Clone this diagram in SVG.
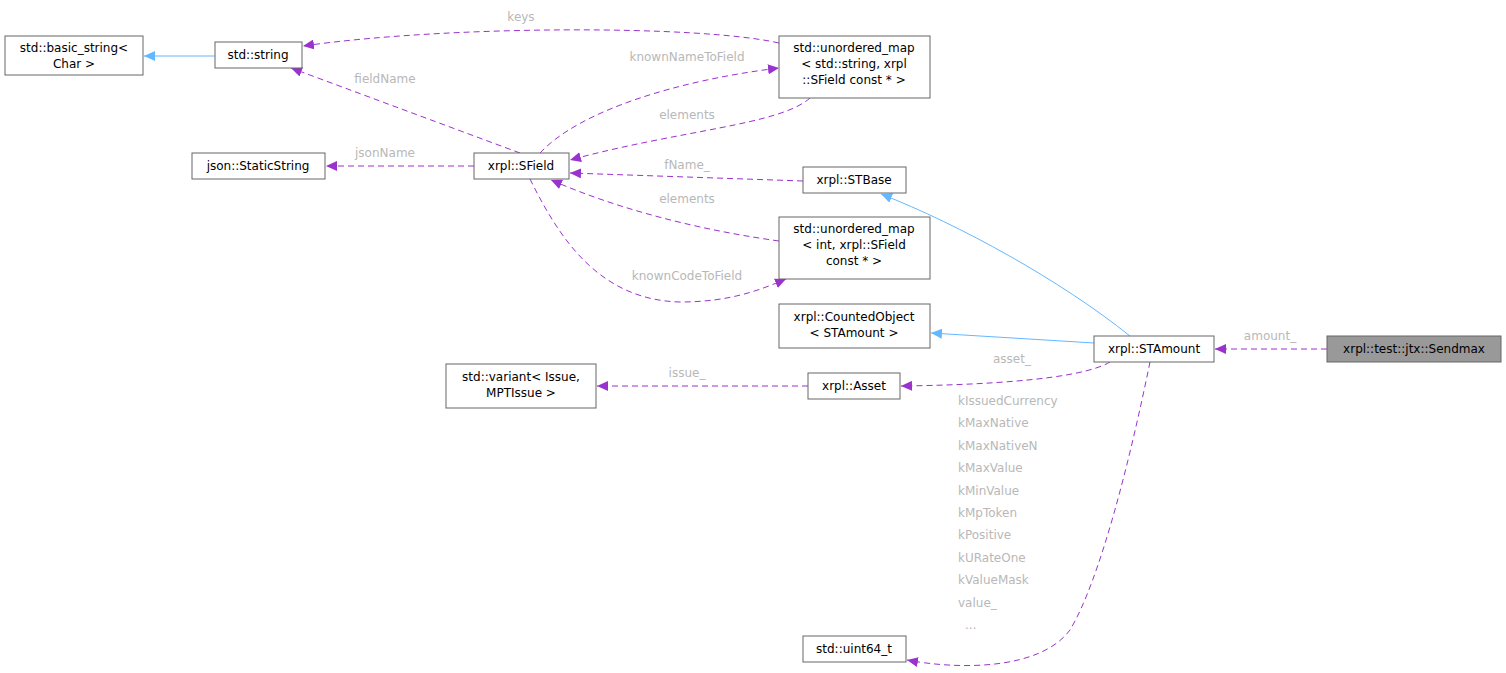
<svg xmlns="http://www.w3.org/2000/svg" width="1506" height="673" viewBox="0 0 1506 673">
<style>
text{font-family:"DejaVu Sans","Liberation Sans",sans-serif;font-size:12px}
.n rect{fill:#fff;stroke:#666;stroke-width:1}
.n text{fill:#000;text-anchor:middle}
.d{fill:none;stroke:#9a32cd;stroke-dasharray:6,4}
.b{fill:none;stroke:#63b8ff}
.l{fill:#b8b8b8;text-anchor:middle}
.k{fill:#b8b8b8}
</style>
<defs>
<marker id="mp" markerWidth="12" markerHeight="10" refX="11" refY="5" orient="auto" markerUnits="userSpaceOnUse"><path d="M0,0L11,5L0,10z" fill="#9a32cd"/></marker>
<marker id="mb" markerWidth="12" markerHeight="10" refX="11" refY="5" orient="auto" markerUnits="userSpaceOnUse"><path d="M0,0L11,5L0,10z" fill="#63b8ff"/></marker>
</defs>
<rect width="1506" height="673" fill="#fff"/>
<g id="edges">
<path class="b" d="M215,56H144" marker-end="url(#mb)"/>
<path class="d" d="M520,153L291,68" marker-end="url(#mp)"/>
<path class="d" d="M779,43C700,25 450,25 303,46" marker-end="url(#mp)"/>
<path class="d" d="M540,153C580,110 680,80 779,68" marker-end="url(#mp)"/>
<path class="d" d="M810,98C780,125 680,130 570,160" marker-end="url(#mp)"/>
<path class="d" d="M474,166H326" marker-end="url(#mp)"/>
<path class="d" d="M803,181L570,173" marker-end="url(#mp)"/>
<path class="d" d="M779,241C700,230 620,210 551,180" marker-end="url(#mp)"/>
<path class="d" d="M530,179C560,240 600,300 680,302C730,302 760,290 786,279" marker-end="url(#mp)"/>
<path class="b" d="M1130,336C1060,280 960,225 881,194" marker-end="url(#mb)"/>
<path class="b" d="M1094,343L931,333" marker-end="url(#mb)"/>
<path class="d" d="M1327,349H1215" marker-end="url(#mp)"/>
<path class="d" d="M1110,362C1080,380 980,385 901,386" marker-end="url(#mp)"/>
<path class="d" d="M808,386H597" marker-end="url(#mp)"/>
<path class="d" d="M1150,362C1130,460 1100,580 1070,630C1040,670 960,670 907,660" marker-end="url(#mp)"/>
<text class="l" x="385" y="83">fieldName</text>
<text class="l" x="521" y="21">keys</text>
<text class="l" x="687" y="61">knownNameToField</text>
<text class="l" x="687" y="119">elements</text>
<text class="l" x="385" y="157">jsonName</text>
<text class="l" x="687" y="169">fName_</text>
<text class="l" x="687" y="203">elements</text>
<text class="l" x="687" y="280">knownCodeToField</text>
<text class="l" x="1270" y="340">amount_</text>
<text class="l" x="1012" y="363">asset_</text>
<text class="l" x="687" y="377">issue_</text>
<text class="k" x="958" y="405">kIssuedCurrency</text>
<text class="k" x="958" y="427">kMaxNative</text>
<text class="k" x="958" y="450">kMaxNativeN</text>
<text class="k" x="958" y="472">kMaxValue</text>
<text class="k" x="958" y="495">kMinValue</text>
<text class="k" x="958" y="517">kMpToken</text>
<text class="k" x="958" y="539">kPositive</text>
<text class="k" x="958" y="562">kURateOne</text>
<text class="k" x="958" y="584">kValueMask</text>
<text class="k" x="958" y="607">value_</text>
<text class="k" x="965" y="629">...</text>
</g>
<g id="n1" class="n"><rect x="5" y="36" width="138" height="39"/><text x="74" y="52">std::basic_string&lt;</text><text x="74" y="68">Char &gt;</text></g>
<g id="n2" class="n"><rect x="215" y="42" width="87" height="26"/><text x="258" y="59">std::string</text></g>
<g id="n3" class="n"><rect x="192" y="153" width="133" height="26"/><text x="258" y="170">json::StaticString</text></g>
<g id="n4" class="n"><rect x="474" y="153" width="95" height="26"/><text x="521" y="170">xrpl::SField</text></g>
<g id="n5" class="n"><rect x="779" y="36" width="151" height="62"/><text x="854" y="52">std::unordered_map</text><text x="854" y="68">&lt; std::string, xrpl</text><text x="854" y="84">::SField const * &gt;</text></g>
<g id="n6" class="n"><rect x="803" y="167" width="103" height="26"/><text x="854" y="184">xrpl::STBase</text></g>
<g id="n7" class="n"><rect x="779" y="217" width="151" height="62"/><text x="854" y="233">std::unordered_map</text><text x="854" y="249">&lt; int, xrpl::SField</text><text x="854" y="265">const * &gt;</text></g>
<g id="n8" class="n"><rect x="779" y="304" width="151" height="44"/><text x="854" y="321">xrpl::CountedObject</text><text x="854" y="337">&lt; STAmount &gt;</text></g>
<g id="n9" class="n"><rect x="1094" y="336" width="120" height="26"/><text x="1154" y="353">xrpl::STAmount</text></g>
<g id="n10" class="n"><rect x="1327" y="336" width="174" height="26" style="fill:#999"/><text x="1414" y="353">xrpl::test::jtx::Sendmax</text></g>
<g id="n11" class="n"><rect x="446" y="364" width="150" height="44"/><text x="521" y="381">std::variant&lt; Issue,</text><text x="521" y="397">MPTIssue &gt;</text></g>
<g id="n12" class="n"><rect x="808" y="373" width="92" height="26"/><text x="854" y="390">xrpl::Asset</text></g>
<g id="n13" class="n"><rect x="803" y="636" width="103" height="26"/><text x="854" y="653">std::uint64_t</text></g>
</svg>
